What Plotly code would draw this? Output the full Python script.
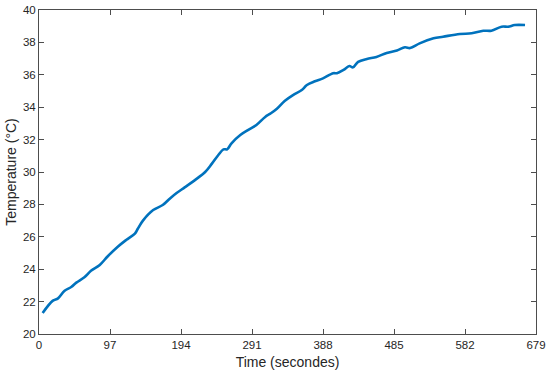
import plotly.graph_objects as go

time_s = [5, 19, 26, 35, 44, 51, 62, 71, 83, 94, 108, 119, 131, 135, 142, 156, 169,
          179, 188, 199, 213, 227, 236, 245, 252, 257, 263, 275, 286, 297, 309, 316,
          325, 336, 347, 359, 366, 377, 388, 402, 407, 416, 424, 429, 436, 448, 461,
          475, 489, 500, 507, 520, 539, 552, 575, 591, 607, 618, 632, 641, 650, 664]
temp_c = [21.3, 22.06, 22.2, 22.67, 22.9, 23.17, 23.5, 23.9, 24.26, 24.8, 25.4, 25.8,
          26.2, 26.5, 27.0, 27.65, 27.96, 28.37, 28.7, 29.05, 29.5, 30.0, 30.5, 31.05,
          31.4, 31.4, 31.77, 32.28, 32.6, 32.9, 33.4, 33.6, 33.9, 34.4, 34.75, 35.06,
          35.37, 35.6, 35.78, 36.1, 36.1, 36.3, 36.54, 36.46, 36.8, 36.98, 37.1, 37.35,
          37.5, 37.7, 37.65, 37.94, 38.25, 38.35, 38.52, 38.56, 38.72, 38.72, 38.97,
          38.97, 39.07, 39.07]

x_ticks = [0, 97, 194, 291, 388, 485, 582, 679]
y_ticks = [20, 22, 24, 26, 28, 30, 32, 34, 36, 38, 40]

fig = go.Figure(go.Scatter(x=time_s, y=temp_c, mode="lines",
                           line=dict(color="#0072BD", width=2.6),
                           line_shape="spline", showlegend=False))

axis_style = dict(showline=True, linecolor="#4d4d4d", linewidth=1, mirror="ticks",
                  ticks="inside", ticklen=5, tickcolor="#4d4d4d", showgrid=False,
                  zeroline=False, automargin=False,
                  tickfont=dict(size=11.5, color="#262626"))

fig.update_layout(
    width=550, height=376,
    margin=dict(l=39, r=14, t=10, b=42),
    plot_bgcolor="white", paper_bgcolor="white",
    font=dict(family="Liberation Sans, Arial, sans-serif", size=11.5, color="#262626"),
    xaxis=dict(range=[0, 679], tickvals=x_ticks,
               title=dict(text="Time (secondes)", standoff=7), **axis_style),
    yaxis=dict(range=[20, 40], tickvals=y_ticks,
               title=dict(text="Temperature (°C)", standoff=3), **axis_style),
)

# page has a default 8px body margin; drop it so the figure sits at 0,0
fig.write_html("out.html", config={"displayModeBar": False},
               post_script="document.body.style.margin='0';")
